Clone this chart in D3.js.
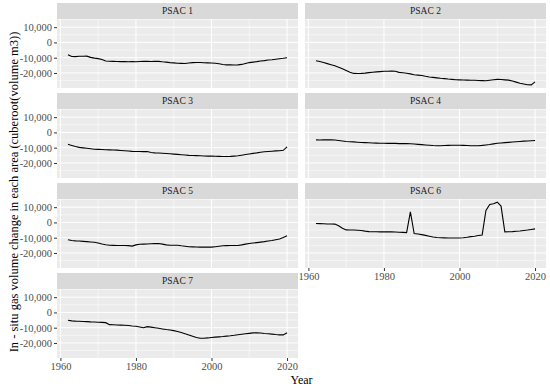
<!DOCTYPE html>
<html>
<head>
<meta charset="utf-8">
<script src="https://cdn.jsdelivr.net/npm/d3@7"></script>
<style>
  body { margin: 0; background: #fff; }
  text { font-family: 'Liberation Serif', 'DejaVu Serif', serif; }
</style>
</head>
<body>
<div id="chart"></div>
<script>
// yearly series, one per area
const years = d3.range(1962, 2021)

const psac1 = [-8000, -9200, -9300, -9100, -9100, -9000, -9800, -10300, -10600, -11200,
  -12200, -12300, -12400, -12500, -12600, -12600, -12700, -12600, -12700, -12500,
  -12400, -12400, -12500, -12300, -12400, -12700, -12900, -13200, -13400, -13600,
  -13700, -13800, -13500, -13200, -13100, -13100, -13300, -13400, -13500, -13600,
  -14000, -14500, -14700, -14700, -14800, -14700, -14400, -13800, -13200, -12900,
  -12600, -12200, -11900, -11500, -11300, -11000, -10700, -10400, -10000]

const psac2 = [-12000, -12500, -13200, -13900, -14600, -15300, -16200, -17300, -18400, -19500,
  -20300, -20400, -20300, -20100, -19800, -19500, -19300, -19100, -18900, -18900,
  -18800, -18900, -19600, -19900, -20200, -20600, -21200, -21400, -21700, -22200,
  -22600, -22900, -23200, -23500, -23700, -24000, -24200, -24400, -24500, -24600,
  -24700, -24800, -24800, -24900, -25000, -25100, -24800, -24500, -24200, -24300,
  -24500, -24700, -25300, -26000, -26700, -27200, -27700, -27800, -25800]

const psac3 = [-7800, -8500, -9200, -9800, -10100, -10400, -10700, -11000, -11100, -11200,
  -11300, -11400, -11500, -11600, -11800, -12000, -12200, -12400, -12500, -12500,
  -12600, -12500, -13200, -13400, -13500, -13600, -13800, -14000, -14200, -14400,
  -14600, -14800, -15000, -15100, -15200, -15300, -15400, -15500, -15500, -15600,
  -15700, -15800, -15800, -15700, -15500, -15300, -14900, -14500, -14100, -13700,
  -13400, -13000, -12700, -12500, -12300, -12100, -12000, -11700, -9500]

const psac4 = [-4900, -5000, -4900, -4800, -4900, -5000, -5300, -5600, -5900, -6100,
  -6200, -6400, -6600, -6700, -6800, -6900, -7000, -7100, -7100, -7200,
  -7200, -7200, -7300, -7300, -7300, -7400, -7600, -7800, -8000, -8200,
  -8400, -8600, -8700, -8700, -8600, -8500, -8400, -8400, -8400, -8500,
  -8600, -8700, -8700, -8700, -8500, -8200, -7900, -7500, -7100, -6900,
  -6700, -6500, -6300, -6100, -5900, -5700, -5600, -5400, -5300]

const psac5 = [-11300, -11800, -12100, -12200, -12400, -12600, -12800, -13000, -13500, -14100,
  -14600, -14900, -15000, -15100, -15100, -15100, -15200, -15500, -14700, -14300,
  -14200, -14100, -14000, -13900, -13800, -14200, -14700, -14900, -14900, -14900,
  -15300, -15600, -15900, -16000, -16100, -16200, -16200, -16200, -16200, -15900,
  -15600, -15300, -15200, -15100, -15100, -15100, -14700, -14200, -13800, -13500,
  -13200, -12900, -12600, -12200, -11800, -11300, -10800, -9900, -8700]

const psac6 = [-700, -800, -900, -1000, -1000, -1100, -2200, -3800, -4900, -5000,
  -5000, -5100, -5300, -5700, -6000, -6100, -6100, -6200, -6200, -6200,
  -6200, -6300, -6400, -6500, -6700, 6900, -7300, -7600, -8000, -8500,
  -9000, -9500, -9900, -10000, -10100, -10200, -10200, -10200, -10200, -10000,
  -9700, -9300, -9000, -8600, -8200, 7800, 11800, 12200, 13300, 10700,
  -6200, -6100, -6000, -5800, -5600, -5300, -5000, -4600, -4200]

const psac7 = [-5100, -5500, -5700, -5800, -5900, -6000, -6200, -6300, -6400, -6500,
  -6700, -8000, -8100, -8200, -8300, -8400, -8600, -8900, -9100, -9500,
  -10000, -9300, -9600, -10000, -10400, -10800, -11200, -11500, -11900, -12500,
  -13200, -14000, -14800, -15600, -16400, -16900, -16900, -16700, -16400, -16200,
  -16000, -15800, -15500, -15300, -15000, -14600, -14300, -14000, -13700, -13400,
  -13300, -13500, -13800, -14000, -14200, -14500, -14700, -14700, -13300]

const panelNames = ['PSAC 1', 'PSAC 2', 'PSAC 3', 'PSAC 4', 'PSAC 5', 'PSAC 6', 'PSAC 7']
const series = [psac1, psac2, psac3, psac4, psac5, psac6, psac7]

const xMajor = [1960, 1980, 2000, 2020]
const xMinor = [1970, 1990, 2010]
const yMajor = [-20000, -10000, 0, 10000]
const yMinor = [-25000, -15000, -5000, 5000, 15000]

const width = 550
const height = 389
const colX = [57, 305]
const panelW = 241
const panelH = 69
const stripH = 16
const rowTop = [19, 109, 199, 289]

const svg = d3
  .select('#chart')
  .append('svg')
  .attr('width', width)
  .attr('height', height)

// shared scales, ggplot style 5% expansion
const xPad = (2020 - 1962) * 0.05
const xPositionScale = d3
  .scaleLinear()
  .domain([1962 - xPad, 2020 + xPad])
  .range([0, panelW])

const allVals = series.flat()
const [yLo, yHi] = d3.extent(allVals)
const yPad = (yHi - yLo) * 0.05
const yPositionScale = d3
  .scaleLinear()
  .domain([yLo - yPad, yHi + yPad])
  .range([panelH, 0])

const fmt = v => d3.format(',')(v).replace('\u2212', '-')

const line = d3
  .line()
  .x((d, i) => xPositionScale(years[i]))
  .y(d => yPositionScale(d))

series.forEach((vals, idx) => {
  const col = idx % 2
  const row = Math.floor(idx / 2)
  const g = svg
    .append('g')
    .attr('transform', `translate(${colX[col]},${rowTop[row]})`)

  // strip
  g.append('rect')
    .attr('x', 0)
    .attr('y', -stripH)
    .attr('width', panelW)
    .attr('height', stripH)
    .attr('fill', '#d9d9d9')
  g.append('text')
    .attr('x', panelW / 2)
    .attr('y', -stripH / 2)
    .attr('dy', '0.35em')
    .attr('text-anchor', 'middle')
    .attr('font-size', 9.5)
    .attr('fill', '#1a1a1a')
    .text(panelNames[idx])

  // panel
  g.append('rect')
    .attr('width', panelW)
    .attr('height', panelH)
    .attr('fill', '#ebebeb')

  g.selectAll('.ymin')
    .data(yMinor)
    .enter()
    .append('line')
    .attr('x1', 0)
    .attr('x2', panelW)
    .attr('y1', d => yPositionScale(d))
    .attr('y2', d => yPositionScale(d))
    .attr('stroke', '#fff')
    .attr('stroke-width', 0.5)
  g.selectAll('.xmin')
    .data(xMinor)
    .enter()
    .append('line')
    .attr('x1', d => xPositionScale(d))
    .attr('x2', d => xPositionScale(d))
    .attr('y1', 0)
    .attr('y2', panelH)
    .attr('stroke', '#fff')
    .attr('stroke-width', 0.5)
  g.selectAll('.ymaj')
    .data(yMajor)
    .enter()
    .append('line')
    .attr('x1', 0)
    .attr('x2', panelW)
    .attr('y1', d => yPositionScale(d))
    .attr('y2', d => yPositionScale(d))
    .attr('stroke', '#fff')
    .attr('stroke-width', 1)
  g.selectAll('.xmaj')
    .data(xMajor)
    .enter()
    .append('line')
    .attr('x1', d => xPositionScale(d))
    .attr('x2', d => xPositionScale(d))
    .attr('y1', 0)
    .attr('y2', panelH)
    .attr('stroke', '#fff')
    .attr('stroke-width', 1)

  g.append('path')
    .datum(vals)
    .attr('d', line)
    .attr('fill', 'none')
    .attr('stroke', '#000')
    .attr('stroke-width', 1.1)

  // y axis on left column
  if (col === 0) {
    const ya = g.append('g').call(
      d3.axisLeft(yPositionScale)
        .tickValues(yMajor)
        .tickFormat(fmt)
        .tickSize(3)
        .tickPadding(2)
    )
    ya.select('.domain').remove()
    ya.selectAll('line').attr('stroke', '#333')
    ya.selectAll('text')
      .attr('font-size', 10.5)
      .attr('fill', '#4d4d4d')
      .attr('font-family', "'Liberation Serif', serif")
  }

  // x axis on bottom panel of each column
  if (idx === 5 || idx === 6) {
    const xa = g
      .append('g')
      .attr('transform', `translate(0,${panelH})`)
      .call(
        d3.axisBottom(xPositionScale)
          .tickValues(xMajor)
          .tickFormat(d3.format('d'))
          .tickSize(3)
          .tickPadding(2)
      )
    xa.select('.domain').remove()
    xa.selectAll('line').attr('stroke', '#333')
    xa.selectAll('text')
      .attr('font-size', 10.5)
      .attr('fill', '#4d4d4d')
      .attr('font-family', "'Liberation Serif', serif")
  }
})

// axis titles
svg.append('text')
  .attr('x', (colX[0] + colX[1] + panelW) / 2)
  .attr('y', 384)
  .attr('text-anchor', 'middle')
  .attr('font-size', 12)
  .text('Year')

svg.append('text')
  .attr('transform', 'translate(18,192) rotate(-90)')
  .attr('text-anchor', 'middle')
  .attr('font-size', 12.5)
  .text('In - situ gas volume change in each area (cuberoot(volume m3))')
</script>
</body>
</html>
